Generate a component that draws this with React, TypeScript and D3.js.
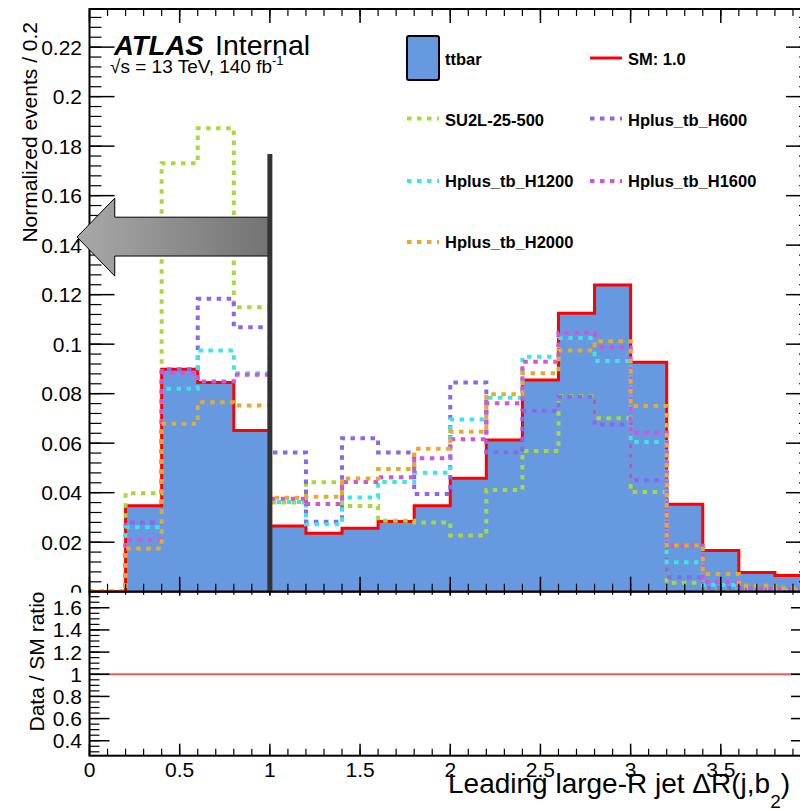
import React from 'react';
import * as d3 from 'd3';

// ---------------- data ----------------
const binEdges = [0, 0.2, 0.4, 0.6, 0.8, 1.0, 1.2, 1.4, 1.6, 1.8, 2.0, 2.2, 2.4, 2.6, 2.8, 3.0, 3.2, 3.4, 3.6, 3.8, 4.0];

const ttbar = [0, 0.0347, 0.0899, 0.0845, 0.0651, 0.0265, 0.0236, 0.0256, 0.0284, 0.0347, 0.0458, 0.0613, 0.0855, 0.1125, 0.1239, 0.0927, 0.0353, 0.0166, 0.0078, 0.0065];
const su2l = [0, 0.0398, 0.1731, 0.1872, 0.1149, 0.0360, 0.0442, 0.0346, 0.0287, 0.0280, 0.0227, 0.0411, 0.0568, 0.0791, 0.0701, 0.0403, 0.0036, 0.0011, 0.0005, 0.0003];
const h600 = [0, 0.0280, 0.0899, 0.1183, 0.1068, 0.0562, 0.0283, 0.0620, 0.0562, 0.0395, 0.0845, 0.0563, 0.0731, 0.0788, 0.0675, 0.0450, 0.0058, 0.0015, 0.0008, 0.0005];
const h1200 = [0, 0.0260, 0.0820, 0.0974, 0.0882, 0.0362, 0.0272, 0.0381, 0.0443, 0.0481, 0.0696, 0.0784, 0.0949, 0.1025, 0.0932, 0.0605, 0.0119, 0.0027, 0.0010, 0.0006];
const h1600 = [0, 0.0209, 0.0885, 0.0849, 0.0876, 0.0375, 0.0354, 0.0443, 0.0462, 0.0539, 0.0616, 0.0761, 0.0929, 0.1046, 0.0987, 0.0642, 0.0186, 0.0039, 0.0011, 0.0010];
const h2000 = [0, 0.0175, 0.0678, 0.0765, 0.0752, 0.0380, 0.0384, 0.0457, 0.0496, 0.0577, 0.0646, 0.0798, 0.0882, 0.0974, 0.1012, 0.0750, 0.0187, 0.0072, 0.0024, 0.0014];

const signalNames = ['SU2L-25-500', 'Hplus_tb_H600', 'Hplus_tb_H1200', 'Hplus_tb_H1600', 'Hplus_tb_H2000'];
const signalColors = ['#a6d93a', '#8a66ee', '#3ae6e6', '#d255d8', '#e6aa2e'];
const signals = [su2l, h600, h1200, h1600, h2000];

const mainYTicks = [0, 0.02, 0.04, 0.06, 0.08, 0.1, 0.12, 0.14, 0.16, 0.18, 0.2, 0.22];
const mainYLabels = ['0', '0.02', '0.04', '0.06', '0.08', '0.1', '0.12', '0.14', '0.16', '0.18', '0.2', '0.22'];
const ratioYTicks = [0.4, 0.6, 0.8, 1, 1.2, 1.4, 1.6];
const ratioYLabels = ['0.4', '0.6', '0.8', '1', '1.2', '1.4', '1.6'];
const xTicks = [0, 0.5, 1, 1.5, 2, 2.5, 3, 3.5, 4];
const xLabels = ['0', '0.5', '1', '1.5', '2', '2.5', '3', '3.5'];

const cutValue = 1.0;
const cutLineTop = 0.1768;

const FONT = "'Liberation Sans', Arial, Helvetica, sans-serif";
const FILL = '#6699e0';
const RED = '#ff0000';
const DASH = '4.5 5.5';

export default function App() {
  const x = d3.scaleLinear().domain([0, 4]).range([89.5, 811]);
  const y = d3.scaleLinear().domain([0, 0.2354]).range([591.7, 9]);
  const yr = d3.scaleLinear().domain([0.265, 1.745]).range([755.7, 591.7]);

  const pts = (vals: number[]) => [
    [binEdges[0], 0] as [number, number],
    ...vals.map((v, i) => [binEdges[i], v] as [number, number]),
    [binEdges[binEdges.length - 1], vals[vals.length - 1]] as [number, number],
    [binEdges[binEdges.length - 1], 0] as [number, number],
  ];
  const line = d3.line<[number, number]>().x(d => x(d[0])).y(d => y(d[1])).curve(d3.curveStepAfter);
  const area = d3.area<[number, number]>().x(d => x(d[0])).y0(y(0)).y1(d => y(d[1])).curve(d3.curveStepAfter);

  const xMinor = d3.range(0, 4.0001, 0.1);
  const yMinor = d3.range(0, 0.2354, 0.004);
  const yrMinor = d3.range(0.3, 1.745, 0.05);

  const L = 89.5, R = 811, T = 9, B = 591.7, RB = 755.7;

  // arrow geometry (in data units)
  const bodyL = x(0.14), tipX = x(-0.069), bodyR = x(cutValue);
  const arrowPts = [
    [bodyR, y(0.1513)], [bodyL, y(0.1513)], [bodyL, y(0.159)], [tipX, y(0.1433)],
    [bodyL, y(0.1275)], [bodyL, y(0.1356)], [bodyR, y(0.1356)],
  ].map(p => p.join(',')).join(' ');

  const legendRows = [
    { label: 'ttbar', kind: 'box', lx: 407, ty: 65, ly: 58 },
    { label: 'SM: 1.0', kind: 'red', lx: 590, ty: 65, ly: 58 },
    { label: signalNames[0], kind: 0, lx: 407, ty: 126, ly: 118.5 },
    { label: signalNames[1], kind: 1, lx: 590, ty: 126, ly: 118.5 },
    { label: signalNames[2], kind: 2, lx: 407, ty: 187, ly: 181 },
    { label: signalNames[3], kind: 3, lx: 590, ty: 187, ly: 181 },
    { label: signalNames[4], kind: 4, lx: 407, ty: 248, ly: 242 },
  ];

  return (
    <div style={{ position: 'absolute', left: 0, top: 0 }}>
      <svg width={800} height={811} style={{ display: 'block', background: '#fff' }} fontFamily={FONT}>
        <defs>
          <linearGradient id="arrowGrad" x1="0" x2="1" y1="0" y2="0">
            <stop offset="0%" stopColor="#a9a9a9" />
            <stop offset="100%" stopColor="#737373" />
          </linearGradient>
        </defs>
        <rect x={0} y={0} width={800} height={811} fill="#fff" />

        {/* ttbar stack + SM outline */}
        <path d={area(pts(ttbar)) || ''} fill={FILL} stroke="none" />
        <path d={line(pts(ttbar)) || ''} fill="none" stroke={RED} strokeWidth={3} />

        {/* signals */}
        {signals.map((s, i) => (
          <path key={i} d={line(pts(s)) || ''} fill="none" stroke={signalColors[i]} strokeWidth={4} strokeDasharray={DASH} />
        ))}

        {/* main y axis labels */}
        {mainYTicks.map((t, i) => (
          <text key={i} x={82} y={y(t) + 7.5} fontSize={21} textAnchor="end" fill="#000">{mainYLabels[i]}</text>
        ))}

        {/* main frame ticks */}
        {yMinor.map((t, i) => (
          <g key={'ym' + i}>
            <line x1={L} x2={L + 12} y1={y(t)} y2={y(t)} stroke="#000" strokeWidth={1.2} />
            <line x1={R} x2={R - 12} y1={y(t)} y2={y(t)} stroke="#000" strokeWidth={1.2} />
          </g>
        ))}
        {mainYTicks.map((t, i) => (
          <g key={'yM' + i}>
            <line x1={L} x2={L + 25} y1={y(t)} y2={y(t)} stroke="#000" strokeWidth={1.5} />
            <line x1={R} x2={R - 25} y1={y(t)} y2={y(t)} stroke="#000" strokeWidth={1.5} />
          </g>
        ))}
        {xMinor.map((t, i) => (
          <g key={'xm' + i}>
            <line x1={x(t)} x2={x(t)} y1={T} y2={T + 7} stroke="#000" strokeWidth={1.2} />
            <line x1={x(t)} x2={x(t)} y1={B} y2={B - 8} stroke="#000" strokeWidth={1.2} />
          </g>
        ))}
        {xTicks.map((t, i) => (
          <g key={'xM' + i}>
            <line x1={x(t)} x2={x(t)} y1={T} y2={T + 14} stroke="#000" strokeWidth={1.5} />
            <line x1={x(t)} x2={x(t)} y1={B} y2={B - 15} stroke="#000" strokeWidth={1.5} />
          </g>
        ))}
        <rect x={L} y={T} width={R - L} height={B - T} fill="none" stroke="#000" strokeWidth={2} />

        {/* cut arrow and line */}
        <polygon points={arrowPts} fill="url(#arrowGrad)" stroke="#000" strokeWidth={1} />
        <line x1={x(cutValue)} x2={x(cutValue)} y1={y(0)} y2={y(cutLineTop)} stroke="#333" strokeWidth={5} />

        {/* ATLAS label */}
        <text x={114} y={55} fontSize={27.5} fontWeight="bold" fontStyle="italic" fill="#000">ATLAS</text>
        <text x={215} y={55} fontSize={28.5} fill="#000">Internal</text>
        <text x={110} y={73} fontSize={19} fill="#000">
          √s = 13 TeV, 140 fb<tspan dy={-8} fontSize={13}>-1</tspan>
        </text>

        {/* legend */}
        {legendRows.map((r, i) => (
          <g key={'lg' + i}>
            {r.kind === 'box' && (
              <rect x={r.lx} y={36} width={32} height={44} rx={2} fill={FILL} stroke="#000" strokeWidth={2} />
            )}
            {r.kind === 'red' && (
              <line x1={r.lx} x2={r.lx + 32} y1={r.ly} y2={r.ly} stroke={RED} strokeWidth={3} />
            )}
            {typeof r.kind === 'number' && (
              <line x1={r.lx} x2={r.lx + 32} y1={r.ly} y2={r.ly} stroke={signalColors[r.kind]} strokeWidth={4} strokeDasharray={DASH} />
            )}
            <text x={r.lx + 38} y={r.ty} fontSize={16.5} fontWeight="bold" fill="#000">{r.label}</text>
          </g>
        ))}

        {/* y title main */}
        <text transform={`translate(37,22) rotate(-90)`} fontSize={21} textAnchor="end" fill="#000">Normalized events / 0.2</text>

        {/* ratio pad */}
        <rect x={0} y={B + 1} width={800} height={811 - B - 1} fill="#fff" />
        <line x1={L} x2={800} y1={yr(1)} y2={yr(1)} stroke="#ff5858" strokeWidth={2} />
        {yrMinor.map((t, i) => (
          <g key={'rm' + i}>
            <line x1={L} x2={L + 10} y1={yr(t)} y2={yr(t)} stroke="#000" strokeWidth={1.2} />
            <line x1={R} x2={R - 10} y1={yr(t)} y2={yr(t)} stroke="#000" strokeWidth={1.2} />
          </g>
        ))}
        {ratioYTicks.map((t, i) => (
          <g key={'rM' + i}>
            <line x1={L} x2={L + 20} y1={yr(t)} y2={yr(t)} stroke="#000" strokeWidth={1.5} />
            <line x1={R} x2={R - 20} y1={yr(t)} y2={yr(t)} stroke="#000" strokeWidth={1.5} />
            <text x={82} y={yr(t) + 7.5} fontSize={21} textAnchor="end" fill="#000">{ratioYLabels[i]}</text>
          </g>
        ))}
        {xMinor.map((t, i) => (
          <g key={'rxm' + i}>
            <line x1={x(t)} x2={x(t)} y1={RB} y2={RB - 7} stroke="#000" strokeWidth={1.2} />
            <line x1={x(t)} x2={x(t)} y1={B} y2={B + 3} stroke="#000" strokeWidth={1.2} />
          </g>
        ))}
        {xTicks.map((t, i) => (
          <g key={'rxM' + i}>
            <line x1={x(t)} x2={x(t)} y1={RB} y2={RB - 12} stroke="#000" strokeWidth={1.5} />
            <line x1={x(t)} x2={x(t)} y1={B} y2={B + 4} stroke="#000" strokeWidth={1.5} />
          </g>
        ))}
        <rect x={L} y={B} width={R - L} height={RB - B} fill="none" stroke="#000" strokeWidth={2} />
        {xLabels.map((lab, i) => (
          <text key={'xl' + i} x={x(xTicks[i])} y={777} fontSize={21} textAnchor="middle" fill="#000">{lab}</text>
        ))}
        <text transform={`translate(44,661.5) rotate(-90)`} fontSize={21} textAnchor="middle" fill="#000">Data / SM ratio</text>

        {/* x title */}
        <text x={448} y={793} fontSize={28} fill="#000">
          Leading large-R jet ΔR(j,b<tspan dy={15} fontSize={19}>2</tspan><tspan dy={-15}>)</tspan>
        </text>
      </svg>
    </div>
  );
}
